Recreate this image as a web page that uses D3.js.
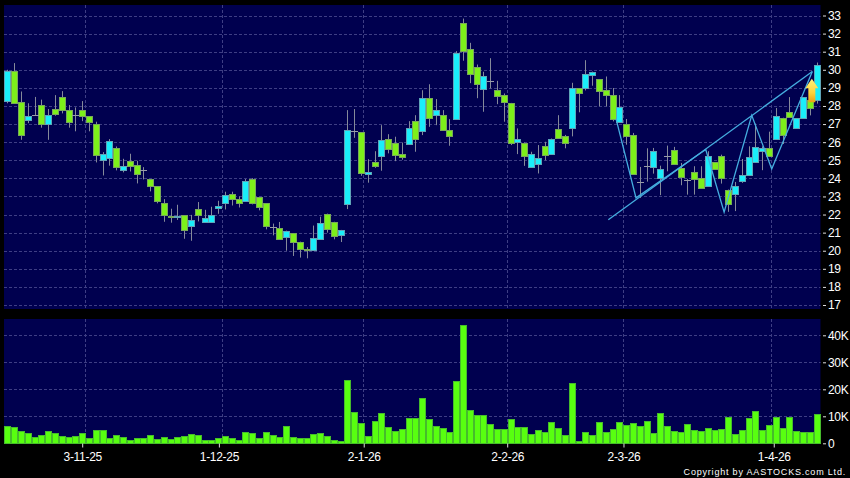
<!DOCTYPE html>
<html><head><meta charset="utf-8">
<script src="https://cdnjs.cloudflare.com/ajax/libs/d3/7.8.5/d3.min.js"></script>
<style>html,body{margin:0;padding:0;background:#000;overflow:hidden}svg{display:block}</style>
</head><body><svg id="c" width="850" height="478"></svg>
<script>
const open=[28.27,29.95,28.2,27.25,27.5,28.03,27.0,27.86,28.49,27.75,27.5,27.77,27.44,27.0,25.0,25.12,25.67,24.46,24.94,24.71,24.46,23.96,23.55,22.62,21.9,21.85,21.95,21.36,22.28,21.58,21.64,22.34,22.63,23.13,22.85,22.74,23.96,22.96,22.62,21.33,
21.26,20.78,20.98,20.5,20.12,20.04,20.67,22.05,21.6,20.85,22.56,26.63,26.54,24.27,24.92,25.27,26.2,25.93,25.36,25.87,27.18,26.65,28.45,27.48,27.51,26.65,27.25,32.56,31.16,30.13,28.97,29.39,28.91,28.58,28.17,26.04,25.98,24.58,24.77,25.76,25.38,26.7,
26.36,26.78,28.99,28.99,29.76,29.47,28.86,28.6,27.11,27.0,26.4,23.82,24.67,24.63,24.03,25.24,25.55,24.58,23.92,24.34,24.03,23.58,24.89,25.24,23.38,23.14,23.84,24.19,24.91,25.51,25.66,26.18,27.35,27.65,26.78,27.33,28.35,28.38];
const high=[30.0,30.37,28.8,28.15,28.5,28.35,27.83,28.6,28.82,28.05,27.92,28.27,27.44,27.13,25.45,26.17,25.76,25.08,25.36,24.97,24.62,23.96,23.55,22.85,22.32,22.54,21.95,21.98,22.69,22.26,22.43,22.76,23.26,23.26,23.0,23.96,24.01,22.96,22.62,21.5,
21.59,21.11,20.98,20.5,20.2,21.39,21.88,22.05,21.6,21.15,27.77,27.83,26.54,25.06,25.5,26.94,26.44,26.3,25.98,27.16,27.49,28.87,29.2,28.38,27.77,27.27,31.03,32.83,31.49,30.29,29.89,30.64,29.39,28.69,28.17,26.76,25.98,25.47,25.84,26.02,26.2,27.49,
26.4,29.28,28.99,30.53,29.9,29.47,29.63,28.99,28.6,27.28,26.51,24.63,25.66,25.68,24.7,25.81,25.74,24.85,23.97,24.67,24.67,25.5,24.89,25.31,23.38,23.8,25.07,25.77,27.02,25.77,26.58,27.89,27.35,28.49,27.32,28.47,28.35,30.4];
const low=[28.15,28.16,26.13,27.05,27.5,26.8,26.13,27.46,27.59,26.8,26.6,27.16,26.6,24.88,24.16,24.7,24.44,24.33,24.38,23.72,23.94,23.28,22.62,21.6,21.55,21.7,20.66,20.55,21.62,21.58,21.64,22.04,22.28,22.5,22.39,22.74,22.56,22.23,21.18,20.85,
20.67,20.0,19.71,19.62,19.58,20.04,20.67,21.0,20.63,20.48,22.3,26.24,24.14,23.76,24.58,24.42,25.38,24.95,25.03,25.87,25.47,26.39,26.85,26.94,26.63,25.8,27.25,30.5,29.26,28.43,27.68,28.97,28.1,27.13,25.84,25.34,24.69,24.58,24.27,25.0,25.32,26.2,
25.66,26.32,27.65,28.86,29.12,27.98,27.98,27.15,27.11,25.86,24.23,22.92,23.82,24.26,23.07,24.39,24.78,23.62,23.1,23.1,23.49,23.58,24.49,23.71,22.15,22.19,23.75,24.19,24.91,24.45,25.24,26.18,25.9,27.35,26.78,27.33,27.48,28.13];
const close=[29.95,28.16,26.4,27.45,27.5,27.0,27.5,27.59,27.77,27.1,27.5,27.44,27.1,25.29,25.34,26.06,24.6,24.68,24.68,24.23,24.46,23.55,22.73,21.95,21.85,21.9,21.12,21.68,21.95,21.79,22.0,22.47,23.06,22.85,22.63,23.83,22.62,22.41,21.36,21.33,
20.67,21.11,20.5,20.12,20.05,20.7,21.55,21.22,20.85,21.15,26.65,26.63,24.27,24.36,24.69,26.13,25.65,25.27,25.19,26.76,26.2,28.45,27.36,27.75,26.68,26.3,30.9,31.01,29.8,29.19,29.67,29.39,28.56,28.19,25.98,26.2,25.27,25.32,25.1,25.27,26.2,26.2,
25.96,28.99,28.71,29.76,29.9,28.82,28.6,27.28,27.92,26.34,24.23,23.82,24.67,25.5,24.5,25.24,24.78,24.08,23.92,23.97,23.49,25.22,24.49,24.03,22.59,23.58,24.17,25.17,25.72,25.66,25.24,27.43,26.43,27.35,27.32,28.47,27.9,30.29];
const volume=[6.3,6.05,4.6,3.95,2.35,3.1,4.45,3.7,2.7,2.35,2.7,3.8,1.85,4.95,4.8,2.1,3.0,2.35,1.35,1.85,2.1,3.1,1.6,2.35,1.6,2.5,2.6,3.45,3.0,1.1,1.1,2.1,2.85,1.85,1.25,4.2,3.8,2.0,4.05,3.1,2.2,6.5,
2.45,2.0,2.0,3.35,3.7,2.7,1.35,1.0,23.45,11.6,7.65,2.6,8.15,11.1,6.05,4.45,5.2,9.4,9.4,16.65,9.0,6.4,5.55,4.05,22.95,43.7,12.45,10.35,10.35,7.3,5.45,5.45,9.0,5.9,6.15,3.45,4.8,4.2,7.9,5.7,3.0,22.45,
1.0,4.2,3.0,7.9,4.3,5.2,7.9,6.65,7.55,6.4,8.15,3.7,11.25,6.55,4.55,4.3,7.3,4.95,4.55,5.8,4.8,5.45,9.9,3.6,5.05,9.5,12.0,4.8,6.8,9.9,5.8,9.65,4.45,4.05,4.05,11.0];
const priceTicks=d3.range(17,34);
const volumeTicks=[0,10,20,30,40];
const dateLabels=["3-11-25","1-12-25","2-1-26","2-2-26","2-3-26","1-4-26"];
const dateTickIdx=[11,31.1,52.4,73.5,90.6,112.7];
const dateGridIdx=[11.45,31.5,52.35,73.5,90.5,112.35];
const trendIdx=[88.37,118.37], trendPrice=[21.71,29.9];
const zigIdx=[89.5,92.44,102.7,105.4,109.46,112.4,118.37];
const zigPrice=[27.3,22.92,25.59,22.13,27.48,24.52,29.9];
const arrowIdx=118.3, arrowTip=29.5, arrowBase=28.2;

const svg=d3.select("#c");
const L=4,R=820.5,T1=5,B1=309,T2=319,B2=443.5;
const x=d3.scaleLinear().domain([0,119]).range([7.4,816.6]);
const y=d3.scaleLinear().domain([33,17]).range([15.5,305]);
const v=d3.scaleLinear().domain([0,40]).range([443.3,335.3]);
const grid="#3e3e84";
const snap=p=>Math.round(p)+.5;

const defs=svg.append("defs");
const g=defs.append("linearGradient").attr("id","arrowG").attr("x1",0).attr("x2",0).attr("y1",0).attr("y2",1);
g.append("stop").attr("offset","0").attr("stop-color","#fff27a");
g.append("stop").attr("offset","0.6").attr("stop-color","#fed23a");
g.append("stop").attr("offset","1").attr("stop-color","#eb9f14");

svg.append("rect").attr("width",850).attr("height",478).attr("fill","#000");
svg.append("rect").attr("x",L).attr("y",T1).attr("width",R-L).attr("height",B1-T1).attr("fill","#00004f");
svg.append("rect").attr("x",L).attr("y",T2).attr("width",R-L).attr("height",B2-T2).attr("fill","#00004f");

function hGrid(ticks,scale){
  svg.append("g").selectAll("line").data(ticks).join("line")
    .attr("x1",L).attr("x2",R).attr("y1",d=>snap(scale(d))).attr("y2",d=>snap(scale(d)))
    .attr("stroke",grid).attr("stroke-dasharray","3 2");
}
hGrid(priceTicks,y);
hGrid(volumeTicks.filter(d=>d>0),v);
[[T1,B1],[T2,B2]].forEach(([a,b])=>{
  svg.append("g").selectAll("line").data(dateGridIdx).join("line")
    .attr("x1",d=>snap(x(d))).attr("x2",d=>snap(x(d))).attr("y1",a).attr("y2",b)
    .attr("stroke",grid).attr("stroke-dasharray","3 2");
});

// candles
const idx=d3.range(open.length);
const cg=svg.append("g");
cg.selectAll("line.w").data(idx).join("line").attr("class","w")
  .attr("x1",i=>snap(x(i))).attr("x2",i=>snap(x(i)))
  .attr("y1",i=>y(high[i])).attr("y2",i=>y(low[i]))
  .attr("stroke","#858a9a");
cg.selectAll("rect").data(idx.filter(i=>open[i]!==close[i])).join("rect")
  .attr("x",i=>Math.round(x(i))-2.5).attr("width",6)
  .attr("y",i=>snap(y(Math.max(open[i],close[i]))))
  .attr("height",i=>Math.max(1,Math.round(Math.abs(y(open[i])-y(close[i])))))
  .attr("fill",i=>close[i]>open[i]?"#1aeefa":"#7df01a")
  .attr("stroke",i=>close[i]>open[i]?"#5fa5b8":"#78a85a");
cg.selectAll("line.d").data(idx.filter(i=>open[i]===close[i])).join("line").attr("class","d")
  .attr("x1",i=>Math.round(x(i))-3).attr("x2",i=>Math.round(x(i))+4)
  .attr("y1",i=>snap(y(open[i]))).attr("y2",i=>snap(y(open[i])))
  .attr("stroke","#989ca8");

// volume
svg.append("g").selectAll("rect").data(idx).join("rect")
  .attr("x",i=>Math.round(x(i))-2.5).attr("width",6)
  .attr("y",i=>snap(v(volume[i]))).attr("height",i=>Math.round(v(0))+.5-snap(v(volume[i])))
  .attr("fill","#58ff10").attr("stroke","#46bb2c");

// pattern lines
const ln=d3.line().x(d=>x(d[0])).y(d=>y(d[1]));
svg.append("path").attr("d",ln(trendIdx.map((d,i)=>[d,trendPrice[i]]))).attr("fill","none").attr("stroke","#45aee0").attr("stroke-width",1.3);
svg.append("path").attr("d",ln(zigIdx.map((d,i)=>[d,zigPrice[i]]))).attr("fill","none").attr("stroke","#45aee0").attr("stroke-width",1.3);

// arrow
const ax=x(arrowIdx),at=y(arrowTip),ab=y(arrowBase);
svg.append("path").attr("d",`M${ax},${at}L${ax+6.5},${at+9.5}L${ax+3.5},${at+9.5}L${ax+3.5},${ab}L${ax-3.5},${ab}L${ax-3.5},${at+9.5}L${ax-6.5},${at+9.5}Z`)
  .attr("fill","url(#arrowG)");

// axes
function styleAxis(s){
  s.select(".domain").remove();
  s.selectAll("line").attr("stroke","#ddd");
  s.selectAll("text").attr("fill","#fff").style("font-family","'Liberation Sans',Arial,sans-serif").style("font-size","12px").style("letter-spacing","-0.3px");
}
svg.append("g").attr("transform",`translate(823,0)`).call(d3.axisRight(y).tickValues(priceTicks).tickSize(3).tickPadding(2).tickFormat(d3.format("d"))).call(styleAxis);
svg.append("g").attr("transform",`translate(823,0)`).call(d3.axisRight(v).tickValues(volumeTicks).tickSize(3).tickPadding(2).tickFormat(d=>d?d+"K":"0")).call(styleAxis);
const xAxis=d3.axisBottom(x).tickValues(dateTickIdx).tickSize(4).tickPadding(5).tickFormat((d,i)=>dateLabels[i]);
svg.append("g").attr("transform",`translate(0,${B2})`).call(xAxis).call(styleAxis);

svg.append("text").attr("x",846).attr("y",474.5).attr("text-anchor","end").attr("fill","#fff")
  .style("font-family","'Liberation Sans',Arial,sans-serif").style("font-size","9px").style("letter-spacing","0.8px")
  .text("Copyright by AASTOCKS.com Ltd.");
</script></body></html>
